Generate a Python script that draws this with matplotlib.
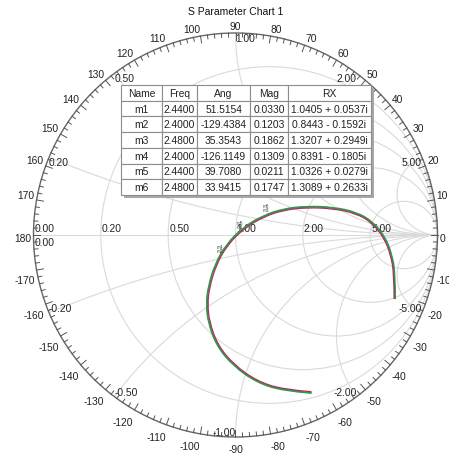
import numpy as np
import matplotlib
matplotlib.use("Agg")
import matplotlib.pyplot as plt
from matplotlib.patches import Circle, Rectangle, PathPatch
from matplotlib.path import Path

plt.rcParams['font.family'] = ['Liberation Sans', 'DejaVu Sans']

# grid values of the Smith chart
r_values = [0.2, 0.5, 1.0, 2.0, 5.0]
x_values = [0.2, 0.5, 1.0, 2.0, 5.0, -0.2, -0.5, -1.0, -2.0, -5.0]
angle_labels = list(range(-170, 181, 10))

trace1_re = [0.790, 0.790, 0.773, 0.740, 0.681, 0.600, 0.484, 0.352, 0.237, 0.138, 0.039,
             -0.044, -0.101, -0.135, -0.144, -0.135, -0.093, -0.011, 0.105, 0.237, 0.377]
trace1_im = [-0.317, -0.193, -0.094, -0.010, 0.064, 0.112, 0.137, 0.142, 0.129, 0.096, 0.038,
             -0.045, -0.144, -0.259, -0.342, -0.432, -0.548, -0.647, -0.729, -0.771, -0.782]
trace2_re = [0.785, 0.785, 0.768, 0.735, 0.677, 0.597, 0.482, 0.352, 0.238, 0.141, 0.043,
             -0.039, -0.095, -0.129, -0.138, -0.129, -0.088, -0.007, 0.108, 0.238, 0.376]
trace2_im = [-0.317, -0.195, -0.097, -0.014, 0.060, 0.107, 0.131, 0.136, 0.123, 0.091, 0.033,
             -0.048, -0.146, -0.260, -0.342, -0.430, -0.545, -0.643, -0.724, -0.765, -0.776]

# marker table
m_names = ["m1", "m2", "m3", "m4", "m5", "m6"]
m_freq = ["2.4400", "2.4000", "2.4800", "2.4000", "2.4400", "2.4800"]
m_ang = ["51.5154", "-129.4384", "35.3543", "-126.1149", "39.7080", "33.9415"]
m_mag = ["0.0330", "0.1203", "0.1862", "0.1309", "0.0211", "0.1747"]
m_r = [1.0405, 0.8443, 1.3207, 0.8391, 1.0326, 1.3089]
m_x = [0.0537, -0.1592, 0.2949, -0.1805, 0.0279, 0.2633]
col_labels = ["Name", "Freq", "Ang", "Mag", "RX"]

W, H = 449, 456
CX, CY, R = 235.5, 236.0, 202.0
px = 1.0 / R
GRID = "#dadada"
TXT = "#222222"
FS = 7.4

fig = plt.figure(figsize=(W / 100, H / 100), dpi=100)
ax = fig.add_axes([0, 0, 1, 1])
ax.set_xlim(-CX / R, (W - CX) / R)
ax.set_ylim((CY - H) / R, CY / R)
ax.axis("off")

unit = Circle((0, 0), 1, facecolor="white", edgecolor="none", zorder=0)
ax.add_patch(unit)

# resistance circles
for r in r_values:
    ax.add_patch(Circle((r / (1 + r), 0), 1 / (1 + r), fill=False, edgecolor=GRID, lw=0.8, zorder=1))
    ax.text((r - 1) / (r + 1) + 1 * px, 2 * px, "%.2f" % r, fontsize=FS, color=TXT,
            ha="left", va="bottom", zorder=3)
ax.plot([-1, 1], [0, 0], color=GRID, lw=0.8, zorder=1)
ax.text(-1 + 1 * px, 2 * px, "0.00", fontsize=FS, color=TXT, ha="left", va="bottom")
ax.text(-1 + 1 * px, -2 * px, "0.00", fontsize=FS, color=TXT, ha="left", va="top")

# reactance arcs
for x in x_values:
    c = Circle((1, 1 / x), 1 / abs(x), fill=False, edgecolor=GRID, lw=0.8, zorder=1)
    ax.add_patch(c)
    c.set_clip_path(unit)
    g = complex(1j * x - 1) / complex(1j * x + 1)
    ha = "left" if (abs(x) < 1 or x == 1) else "right"
    va = "top" if x > 0 else "bottom"
    ax.text(g.real, g.imag, "%.2f" % x, fontsize=FS, color=TXT, ha=ha, va=va, zorder=3)

# outer circle with angle ticks
ax.add_patch(Circle((0, 0), 1, fill=False, edgecolor="#666666", lw=1.0, zorder=4))
for a in range(0, 360, 2):
    t = np.deg2rad(a)
    ln = 7 * px if a % 10 == 0 else 4 * px
    ax.plot([np.cos(t), (1 - ln) * np.cos(t)], [np.sin(t), (1 - ln) * np.sin(t)],
            color="#555555", lw=0.7, zorder=4)
for a in angle_labels:
    t = np.deg2rad(a)
    c, s = np.cos(t), np.sin(t)
    ha = "left" if c > 0.05 else ("right" if c < -0.05 else "center")
    if s > 0.05:
        va, dy = "bottom", 0
    elif s < -0.05:
        va, dy = "top", -5 * px
    else:
        va, dy = "center", -3 * px
    ax.text((1 + 2 * px) * c, (1 + 2 * px) * s + dy, str(a), fontsize=FS, color=TXT,
            ha=ha, va=va, zorder=4)


def smooth_path(xs, ys):
    # quadratic bezier through mid points, the read points act as control points
    pts = list(zip(xs, ys))
    verts = [pts[0]]
    codes = [Path.MOVETO]
    for i in range(1, len(pts) - 1):
        mid = ((pts[i][0] + pts[i + 1][0]) / 2, (pts[i][1] + pts[i + 1][1]) / 2)
        if i == len(pts) - 2:
            mid = pts[-1]
        verts += [pts[i], mid]
        codes += [Path.CURVE3, Path.CURVE3]
    return Path(verts, codes)


ax.add_patch(PathPatch(smooth_path(trace1_re, trace1_im), fill=False,
                       edgecolor="#2e9a4e", lw=1.4, zorder=6))
ax.add_patch(PathPatch(smooth_path(trace2_re, trace2_im), fill=False,
                       edgecolor="#a8325a", lw=0.9, zorder=7))

# marker labels, markers at the same frequency share one label
groups = {}
for i, name in enumerate(m_names):
    groups.setdefault(m_freq[i], []).append(i)
for f, idx in groups.items():
    z = complex(m_r[idx[0]], m_x[idx[0]])
    g = (z - 1) / (z + 1)
    label = "\n".join(m_names[i] for i in reversed(idx))
    ax.text(g.real, g.imag + 1 * px, label, fontsize=3.3, color="#444444",
            ha="center", va="bottom", linespacing=0.8, zorder=8)

# table
rows = []
for i in range(len(m_names)):
    sign = "+" if m_x[i] >= 0 else "-"
    rows.append([m_names[i], m_freq[i], m_ang[i], m_mag[i],
                 "%.4f %s %.4fi" % (m_r[i], sign, abs(m_x[i]))])
x0, y0, tw, th = 121 / W, 1 - 196 / H, 250 / W, 110 / H
ax.add_patch(Rectangle((x0 + 3 / W, y0 - 3 / H), tw, th, transform=ax.transAxes,
                       facecolor="#a8a8a8", edgecolor="none", zorder=9))
tab = ax.table(cellText=rows, colLabels=col_labels, cellLoc="center",
               colWidths=[41, 35, 53, 38, 83], bbox=[x0, y0, tw, th])
tab.auto_set_font_size(False)
tab.set_fontsize(FS)
tab.set_zorder(10)
for cell in tab.get_celld().values():
    cell.set_edgecolor("#8c8c8c")
    cell.set_linewidth(0.8)
    cell.set_facecolor("white")
    cell.get_text().set_color(TXT)

ax.text(0, (CY - 12) / R, "S Parameter Chart 1", fontsize=FS + 0.1, color="#111111",
        ha="center", va="center")

fig.savefig("out.png", dpi=100)
